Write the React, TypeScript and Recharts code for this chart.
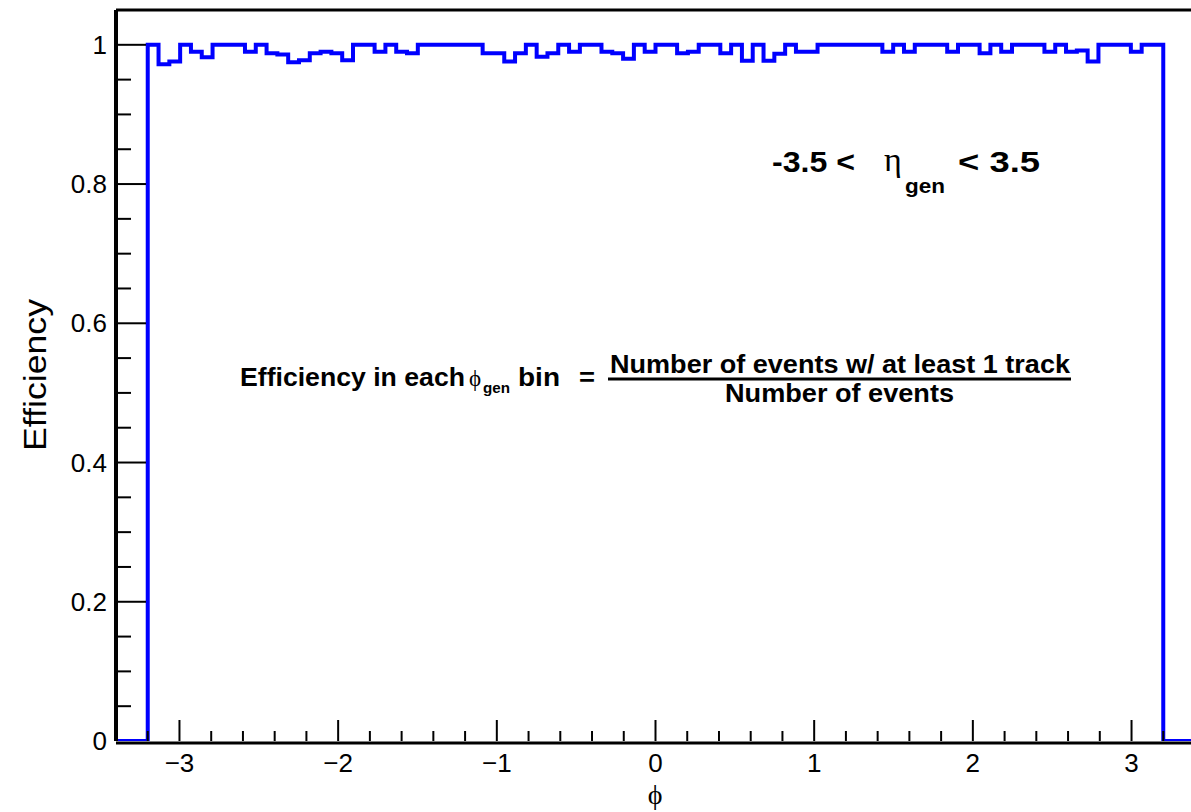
import React from 'react'
import { ComposedChart, Line, XAxis, YAxis, ReferenceLine } from 'recharts'

// histogram range and bin contents (efficiency per phi_gen bin)
const phiMin = -3.2
const phiMax = 3.2
const efficiency = [
  1.0, 0.972, 0.976, 1.0, 0.99, 0.982, 1.0, 1.0, 1.0, 0.99,
  1.0, 0.988, 0.986, 0.975, 0.978, 0.988, 0.99, 0.988, 0.978, 1.0,
  1.0, 0.99, 1.0, 0.99, 0.988, 1.0, 1.0, 1.0, 1.0, 1.0,
  1.0, 0.988, 0.988, 0.976, 0.988, 1.0, 0.983, 0.988, 1.0, 0.99,
  1.0, 1.0, 0.99, 0.988, 0.98, 1.0, 0.99, 1.0, 1.0, 0.988,
  0.99, 1.0, 1.0, 0.988, 1.0, 0.977, 1.0, 0.977, 0.987, 1.0,
  0.99, 0.99, 1.0, 1.0, 1.0, 1.0, 1.0, 1.0, 0.99, 1.0,
  0.99, 1.0, 1.0, 1.0, 0.99, 1.0, 1.0, 0.988, 1.0, 0.99,
  1.0, 1.0, 1.0, 0.99, 1.0, 0.99, 0.992, 0.976, 1.0, 1.0,
  1.0, 0.99, 1.0, 1.0,
]

const xRange = [-3.4, 3.4]
const yRange = [0, 1.05]

const xMajorTicks = [-3, -2, -1, 0, 1, 2, 3]
const xTickLabels = ['\u22123', '\u22122', '\u22121', '0', '1', '2', '3']
const xMinorTicks = [
  -3.2, -2.8, -2.6, -2.4, -2.2, -1.8, -1.6, -1.4, -1.2, -0.8, -0.6, -0.4, -0.2,
  0.2, 0.4, 0.6, 0.8, 1.2, 1.4, 1.6, 1.8, 2.2, 2.4, 2.6, 2.8, 3.2,
]
const yMajorTicks = [0, 0.2, 0.4, 0.6, 0.8, 1]
const yTickLabels = ['0', '0.2', '0.4', '0.6', '0.8', '1']
const yMinorTicks = [0.05, 0.1, 0.15, 0.25, 0.3, 0.35, 0.45, 0.5, 0.55, 0.65, 0.7, 0.75, 0.85, 0.9, 0.95]

const binWidth = (phiMax - phiMin) / efficiency.length
const histData = [
  { phi: xRange[0], eff: 0 },
  ...efficiency.map((eff, i) => ({ phi: phiMin + i * binWidth, eff })),
  { phi: phiMax, eff: 0 },
  { phi: xRange[1], eff: 0 },
]

const FONT = 'Liberation Sans, Arial, Helvetica, sans-serif'
const NARROW = 'Liberation Sans Narrow, Arial Narrow, Liberation Sans, Arial, sans-serif'
const SYMBOL = 'Liberation Serif, DejaVu Serif, serif'

const findIdx = (list: number[], v: number) => list.findIndex(t => Math.abs(t - v) < 1e-6)

const XTick = (props: any) => {
  const { x, y, payload } = props
  const idx = findIdx(xMajorTicks, payload.value)
  const major = idx >= 0
  return (
    <g>
      <line x1={x} y1={y} x2={x} y2={y - (major ? 21 : 10)} stroke="#000" strokeWidth={2} />
      {major && (
        <text x={x} y={y + 31} textAnchor="middle" fontSize={26} fontFamily={FONT} fill="#000">
          {xTickLabels[idx]}
        </text>
      )}
    </g>
  )
}

const YTick = (props: any) => {
  const { x, y, payload } = props
  const idx = findIdx(yMajorTicks, payload.value)
  const major = idx >= 0
  // the tick at 0 sits under the histogram's baseline, so only its label is drawn
  return (
    <g>
      {payload.value !== 0 && (
        <line x1={x} y1={y} x2={x + (major ? 30 : 15)} y2={y} stroke="#000" strokeWidth={2} />
      )}
      {major && (
        <text x={x - 9} y={y} dy={9} textAnchor="end" fontSize={26} fontFamily={FONT} fill="#000">
          {yTickLabels[idx]}
        </text>
      )}
    </g>
  )
}

const Annotations = () => (
  <svg width={1191} height={812} style={{ position: 'absolute', left: 0, top: 0, pointerEvents: 'none' }}>
    <text x={46} y={375} transform="rotate(-90 46 375)" textAnchor="middle" fontSize={31} fontFamily={FONT}
      textLength={152} lengthAdjust="spacingAndGlyphs" fill="#000">
      Efficiency
    </text>
    <text x={655} y={804} textAnchor="middle" fontSize={28} fontFamily={SYMBOL} fill="#000">{'\u03d5'}</text>

    <g fontFamily={FONT} fontWeight="bold" fill="#000">
      <text x={772} y={172} fontSize={30} textLength={83} lengthAdjust="spacingAndGlyphs">-3.5 &lt;</text>
      <text x={884} y={171} fontSize={34} fontWeight="normal" fontFamily={SYMBOL}>{'\u03b7'}</text>
      <text x={905} y={193} fontSize={21} textLength={40} lengthAdjust="spacingAndGlyphs">gen</text>
      <text x={958} y={172} fontSize={30} textLength={82} lengthAdjust="spacingAndGlyphs">&lt; 3.5</text>
    </g>

    <g fontFamily={NARROW} fontWeight="bold" fill="#000">
      <text x={240} y={386} fontSize={26} textLength={225} lengthAdjust="spacingAndGlyphs">Efficiency in each</text>
      <text x={469} y={386} fontSize={23} fontWeight="normal" fontFamily={SYMBOL}>{'\u03d5'}</text>
      <text x={483} y={393} fontSize={14} textLength={27} lengthAdjust="spacingAndGlyphs">gen</text>
      <text x={518} y={386} fontSize={26} textLength={42} lengthAdjust="spacingAndGlyphs">bin</text>
      <text x={579} y={386} fontSize={26} textLength={16} lengthAdjust="spacingAndGlyphs">=</text>
      <text x={610} y={373} fontSize={26} textLength={460} lengthAdjust="spacingAndGlyphs">
        Number of events w/ at least 1 track
      </text>
      <line x1={608} y1={379} x2={1071} y2={379} stroke="#000" strokeWidth={3} />
      <text x={725} y={402} fontSize={26} textLength={229} lengthAdjust="spacingAndGlyphs">Number of events</text>
    </g>
  </svg>
)

const App = () => (
  <div style={{ position: 'absolute', left: 0, top: 0, width: 1191, height: 812, overflow: 'hidden', background: '#fff' }}>
    <ComposedChart width={1220} height={812} data={histData} margin={{ top: 10, right: 25, left: 16, bottom: 31 }}>
      <XAxis
        type="number"
        dataKey="phi"
        domain={xRange}
        ticks={[...xMajorTicks, ...xMinorTicks].sort((a, b) => a - b)}
        interval={0}
        allowDataOverflow
        tickSize={0}
        tickMargin={0}
        tickLine={false}
        axisLine={{ stroke: '#000', strokeWidth: 3, transform: 'translate(0, 2)' }}
        tick={<XTick />}
        height={40}
      />
      <YAxis
        type="number"
        domain={yRange}
        ticks={[...yMajorTicks, ...yMinorTicks].sort((a, b) => a - b)}
        interval={0}
        allowDataOverflow
        tickSize={0}
        tickMargin={0}
        tickLine={false}
        axisLine={{ stroke: '#000', strokeWidth: 4 }}
        tick={<YTick />}
        width={100}
      />
      <ReferenceLine y={yRange[1]} stroke="#000" strokeWidth={3} ifOverflow="visible" />
      <ReferenceLine x={xRange[1]} stroke="#000" strokeWidth={3} ifOverflow="visible" />
      <Line
        type="stepAfter"
        dataKey="eff"
        stroke="#0000ff"
        strokeWidth={4}
        dot={false}
        activeDot={false}
        isAnimationActive={false}
      />
    </ComposedChart>
    <Annotations />
  </div>
)

export default App
